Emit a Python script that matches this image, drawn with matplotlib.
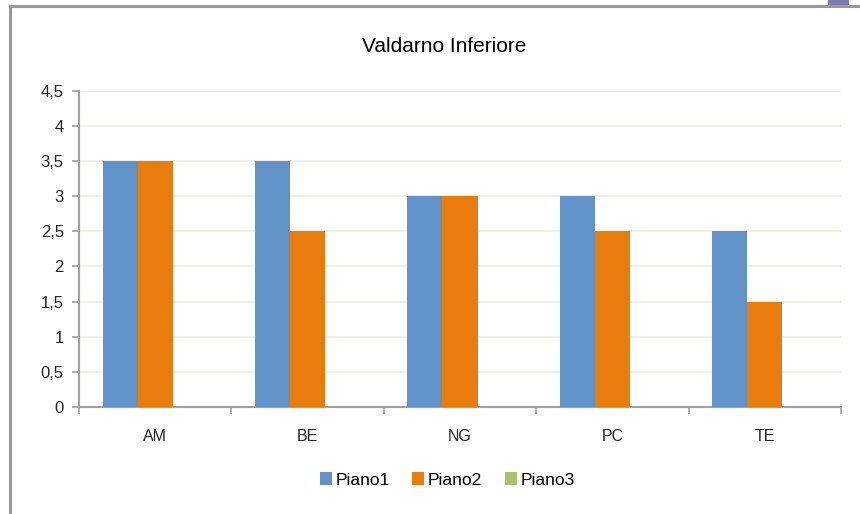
import numpy as np
import matplotlib.pyplot as plt
from matplotlib.lines import Line2D
from matplotlib.patches import Rectangle

categories = ['AM', 'BE', 'NG', 'PC', 'TE']
piano1 = [3.5, 3.5, 3.0, 3.0, 2.5]
piano2 = [3.5, 2.5, 3.0, 2.5, 1.5]
piano3 = [0, 0, 0, 0, 0]
y_ticks = [0, 0.5, 1, 1.5, 2, 2.5, 3, 3.5, 4, 4.5]

plt.rcParams['font.family'] = ['Liberation Sans', 'DejaVu Sans']

fig = plt.figure(figsize=(8.6, 5.14), dpi=100)
ax = fig.add_axes([0.0919, 0.2082, 0.886, 0.615])

x = np.arange(len(categories))
w = 0.23
ax.bar(x - w, piano1, w, color='#6293c8', label='Piano1', zorder=3)
ax.bar(x, piano2, w, color='#e87d0d', label='Piano2', zorder=3)
ax.bar(x + w, piano3, w, color='#a9c46a', label='Piano3', zorder=3)

ax.set_xlim(-0.5, len(categories) - 0.5)
ax.set_ylim(0, 4.5)
ax.set_yticks(y_ticks)
ax.set_yticklabels([f'{v:g}'.replace('.', ',') for v in y_ticks], fontsize=12, color='#222222')
ax.set_xticks(x)
ax.set_xticklabels(categories, fontsize=11.5, color='#222222')
ax.set_xticks(np.arange(-0.5, len(categories)), minor=True)
ax.tick_params(axis='x', which='major', length=0, pad=16)
ax.tick_params(axis='x', which='minor', length=5, color='#a0a0a0', width=1.2)
ax.tick_params(axis='y', length=5, color='#a0a0a0', width=1.2, pad=6)

ax.grid(axis='y', color='#eeeee2', linewidth=1.2, zorder=0)
for s in ['top', 'right']:
    ax.spines[s].set_visible(False)
for s in ['left', 'bottom']:
    ax.spines[s].set_color('#a0a0a0')
    ax.spines[s].set_linewidth(1.5)

fig.text(0.517, 0.91, 'Valdarno Inferiore', ha='center', va='center', fontsize=15,
         family=['Liberation Sans Narrow', 'Liberation Sans'])

ax.legend(loc='center', bbox_to_anchor=(0.483, -0.231), ncol=3, frameon=False,
          fontsize=12.5, handlelength=0.7, handleheight=0.7, handletextpad=0.2,
          columnspacing=1.3)

# outer frame
fig.add_artist(Line2D([10 / 860, 1], [1 - 6 / 514, 1 - 6 / 514], color='#999999', lw=2.2,
                      transform=fig.transFigure))
fig.add_artist(Line2D([10 / 860, 10 / 860], [0, 1 - 6 / 514], color='#999999', lw=2.2,
                      transform=fig.transFigure))
fig.add_artist(Rectangle((828 / 860, 1 - 5 / 514), 20 / 860, 5 / 514, color='#7b7bb0',
                         transform=fig.transFigure))

fig.savefig('out.png', dpi=100)
